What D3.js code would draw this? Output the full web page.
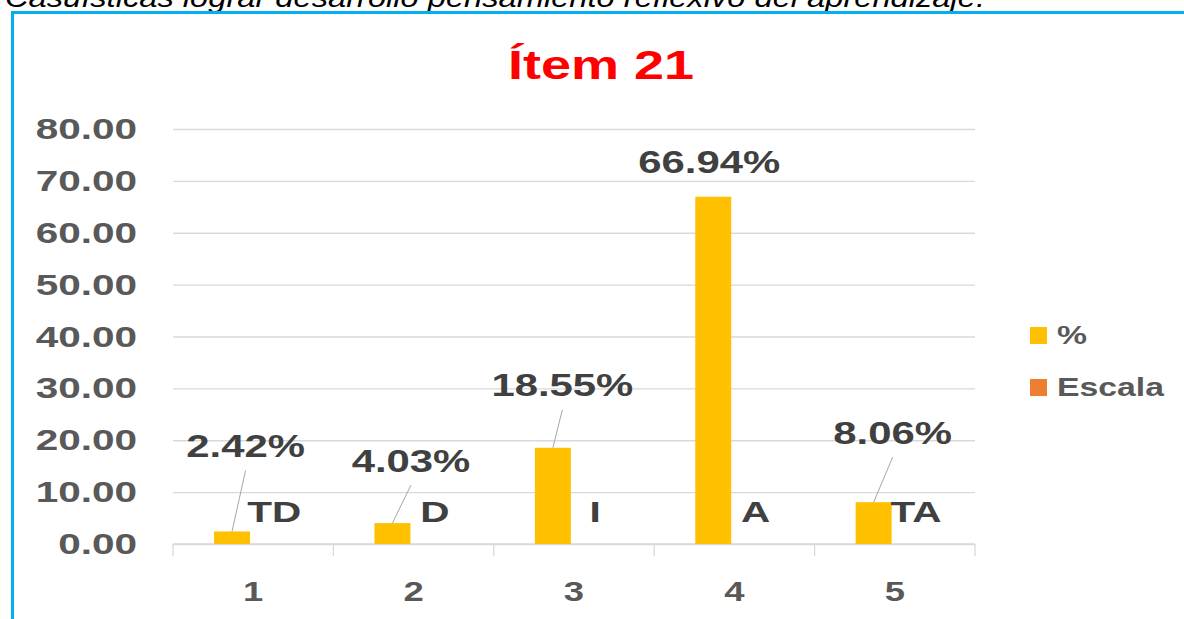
<!DOCTYPE html>
<html lang="es">
<head>
<meta charset="UTF-8">
<title>Ítem 21</title>
<style>
  body { margin: 0; background: #fff; }
  text { font-family: "Liberation Sans", Arial, sans-serif; }
</style>
</head>
<body>
<svg width="1184" height="619"></svg>
<script src="https://d3js.org/d3.v7.min.js"></script>
<script>
// data
var categories = [1, 2, 3, 4, 5];
var pctValues = [2.42, 4.03, 18.55, 66.94, 8.06];
var escalaLabels = ["TD", "D", "I", "A", "TA"];
var seriesNames = ["%", "Escala"];
var yTicks = [0, 10, 20, 30, 40, 50, 60, 70, 80];

// label placement (px from the top of each bar), Excel-style moved labels
var labelShift = [[13.5, -86], [18.5, -63], [9.5, -63], [-4, -35.5], [19, -70]];

var SX = 1.35; // the picture is stretched sideways
var svg = d3.select("svg");
var margin = {top: 129, right: 209, bottom: 75, left: 173};
var W = 1184, H = 619;

var x = d3.scaleBand().domain(categories).range([margin.left, W - margin.right]);
var x1 = d3.scaleBand().domain(seriesNames)
    .range([x.bandwidth() * 0.256, x.bandwidth() * 0.744]).paddingInner(0.15);
var y = d3.scaleLinear().domain([0, 80]).range([H - margin.bottom, margin.top]);

function stext(g, px, py, str, size, fill, anchor) {
  return g.append("text")
    .attr("transform", "translate(" + px + "," + py + ") scale(" + SX + ",1)")
    .attr("text-anchor", anchor || "middle")
    .attr("font-size", size).attr("font-weight", "bold")
    .attr("fill", fill).text(str);
}

// caption cut off at the top
svg.append("text").attr("x", 5).attr("y", 7)
  .attr("font-size", 27).attr("font-style", "italic").attr("fill", "#000")
  .attr("textLength", 980).attr("lengthAdjust", "spacingAndGlyphs")
  .text("Casuísticas lograr  desarrollo pensamiento reflexivo del aprendizaje.");

// blue frame
svg.append("path").attr("d", "M12.5,619 V12.5 H1184")
  .attr("fill", "none").attr("stroke", "#00b0f0").attr("stroke-width", 3);

// title
stext(svg, 601, 79, "Ítem 21", 40, "#ff0000");

// grid + y axis
var yAxis = svg.append("g").attr("transform", "translate(" + margin.left + ",0)")
  .call(d3.axisLeft(y).tickValues(yTicks).tickFormat(d3.format(".2f"))
    .tickSize(-(W - margin.left - margin.right)));
yAxis.select(".domain").remove();
yAxis.selectAll("line").attr("stroke", "#d9d9d9").attr("stroke-width", 1.3);
yAxis.selectAll("text")
  .attr("x", -36 / SX).attr("transform", "scale(" + SX + ",1)")
  .attr("font-size", 30).attr("font-weight", "bold")
  .attr("font-family", "Liberation Sans, Arial, sans-serif")
  .attr("fill", "#595959");

// x axis
var xAxis = svg.append("g");
xAxis.append("line")
  .attr("x1", margin.left).attr("x2", W - margin.right)
  .attr("y1", y(0)).attr("y2", y(0))
  .attr("stroke", "#d9d9d9").attr("stroke-width", 1.3);
var edges = categories.map(function(c) { return x(c); }).concat([x(5) + x.bandwidth()]);
xAxis.selectAll(".tk").data(edges).enter().append("line")
  .attr("x1", function(d) { return d; }).attr("x2", function(d) { return d; })
  .attr("y1", y(0)).attr("y2", y(0) + 12)
  .attr("stroke", "#d9d9d9").attr("stroke-width", 1.3);
categories.forEach(function(c) {
  stext(xAxis, x(c) + x.bandwidth() / 2, 601, String(c), 27, "#595959");
});

// bars
svg.append("g").selectAll("rect").data(pctValues).enter().append("rect")
  .attr("x", function(d, i) { return x(categories[i]) + x1("%"); })
  .attr("width", x1.bandwidth())
  .attr("y", function(d) { return y(d); })
  .attr("height", function(d) { return y(0) - y(d); })
  .attr("fill", "#ffc000");

// value labels + leader lines
var lab = svg.append("g");
pctValues.forEach(function(v, i) {
  var bx = x(categories[i]) + x1("%") + x1.bandwidth() / 2;
  var by = y(v);
  var lx = bx + labelShift[i][0], ly = by + labelShift[i][1];
  if (-labelShift[i][1] > 45) {
    lab.append("line")
      .attr("x1", lx).attr("y1", ly + 25).attr("x2", bx).attr("y2", by)
      .attr("stroke", "#a6a6a6").attr("stroke-width", 1);
  }
  stext(lab, lx, ly + 11.5, v.toFixed(2) + "%", 31, "#404040");
});

// Escala labels
escalaLabels.forEach(function(t, i) {
  var ex = x(categories[i]) + x1("Escala") + x1.bandwidth() / 2;
  stext(lab, ex, y(0) - 22, t, 30, "#404040");
});

// legend
var legColors = ["#ffc000", "#ed7d31"];
var leg = svg.append("g");
seriesNames.forEach(function(s, i) {
  var cy = 335 + i * 52;
  leg.append("rect").attr("x", 1030).attr("y", cy - 8).attr("width", 17).attr("height", 17)
    .attr("fill", legColors[i]);
  stext(leg, 1057, cy + 9, s, 25, "#595959", "start");
});
</script>
</body>
</html>
